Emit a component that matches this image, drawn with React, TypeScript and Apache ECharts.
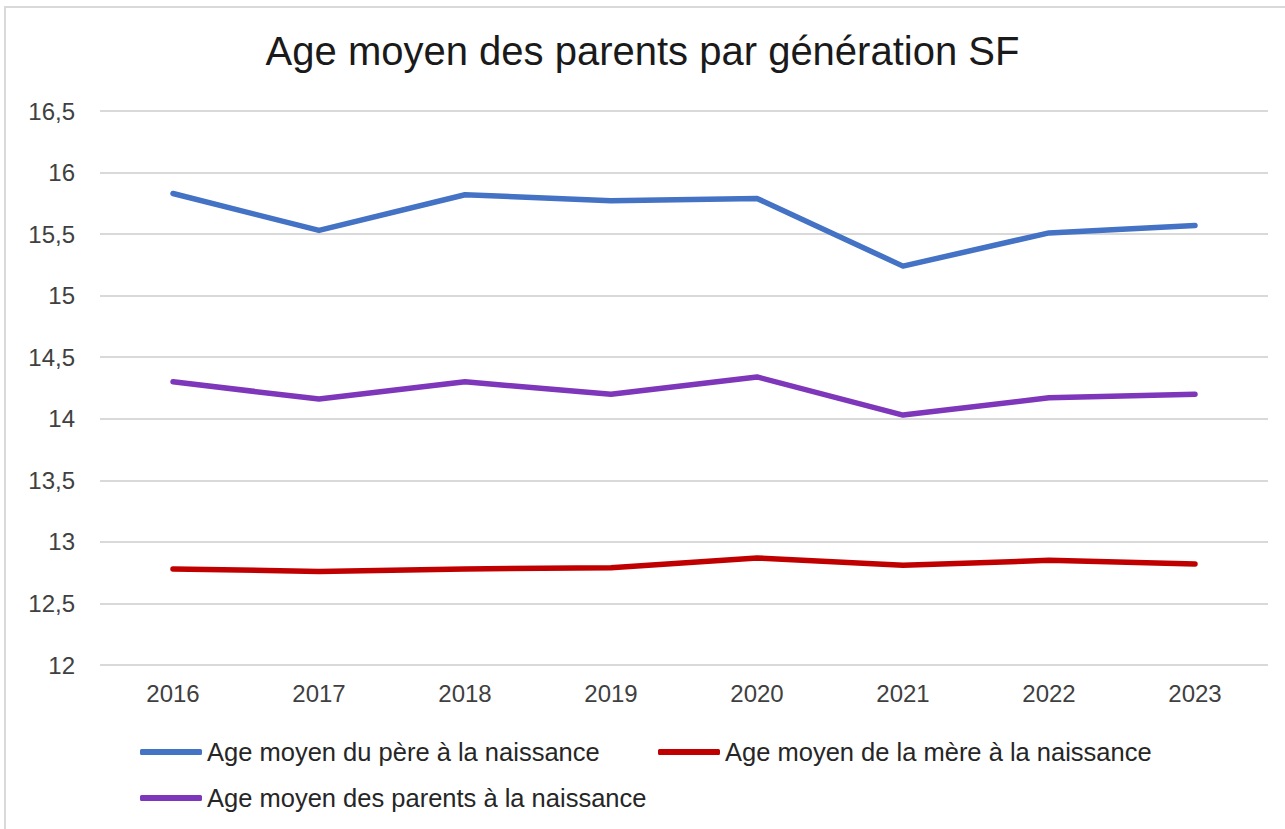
import React, { useEffect, useRef } from "react";
import * as echarts from "echarts";

const years = ["2016", "2017", "2018", "2019", "2020", "2021", "2022", "2023"];
const pere = [15.83, 15.53, 15.82, 15.77, 15.79, 15.24, 15.51, 15.57];
const mere = [12.78, 12.76, 12.78, 12.79, 12.87, 12.81, 12.85, 12.82];
const parents = [14.3, 14.16, 14.3, 14.2, 14.34, 14.03, 14.17, 14.2];

const seriesNames = [
  "Age moyen du père à la naissance",
  "Age moyen de la mère à la naissance",
  "Age moyen des parents à la naissance",
];
const colors = ["#4472C4", "#C00000", "#7E37BA"];

const FONT = "'Liberation Sans', Arial, sans-serif";

export default function App() {
  const ref = useRef<HTMLDivElement>(null);
  useEffect(() => {
    document.body.style.margin = "0";
    const chart = echarts.init(ref.current!, undefined, { renderer: "svg" });
    const legendBase = {
      icon: "roundRect",
      itemWidth: 62,
      itemHeight: 6,
      padding: 0,
      textStyle: { fontFamily: FONT, fontSize: 25.5, color: "#262626" },
      selectedMode: false,
    };
    chart.setOption({
      animation: false,
      backgroundColor: "#ffffff",
      title: {
        text: "Age moyen des parents par génération SF",
        left: "center",
        top: 26,
        textStyle: { fontFamily: FONT, fontSize: 40, fontWeight: "normal", color: "#1a1a1a" },
      },
      graphic: [
        {
          type: "rect",
          shape: { x: 5, y: 7, width: 1400, height: 1000 },
          style: { fill: "none", stroke: "#d9d9d9", lineWidth: 2 },
          silent: true,
        },
      ],
      legend: [
        { ...legendBase, data: [seriesNames[0]], left: 140, top: 739 },
        { ...legendBase, data: [seriesNames[1]], left: 658, top: 739 },
        { ...legendBase, data: [seriesNames[2]], left: 140, top: 785 },
      ],
      grid: { left: 100, right: 17, top: 111, bottom: 164 },
      xAxis: {
        type: "category",
        data: years,
        boundaryGap: true,
        axisLine: { show: false },
        axisTick: { show: false },
        axisLabel: { fontFamily: FONT, fontSize: 24, color: "#404040", margin: 16 },
      },
      yAxis: {
        type: "value",
        min: 12,
        max: 16.5,
        interval: 0.5,
        axisLine: { show: false },
        axisTick: { show: false },
        splitLine: { lineStyle: { color: "#d9d9d9", width: 2 } },
        axisLabel: {
          fontFamily: FONT,
          fontSize: 24,
          color: "#404040",
          margin: 25,
          formatter: (v: number) => String(v).replace(".", ","),
        },
      },
      series: [
        { name: seriesNames[0], data: pere },
        { name: seriesNames[1], data: mere },
        { name: seriesNames[2], data: parents },
      ].map((s, i) => ({
        ...s,
        type: "line",
        showSymbol: false,
        symbol: "none",
        color: colors[i],
        lineStyle: { color: colors[i], width: 5.5, cap: "round", join: "round" },
        itemStyle: { color: colors[i] },
      })),
    });
    return () => chart.dispose();
  }, []);
  return <div ref={ref} style={{ width: 1285, height: 829 }} />;
}
